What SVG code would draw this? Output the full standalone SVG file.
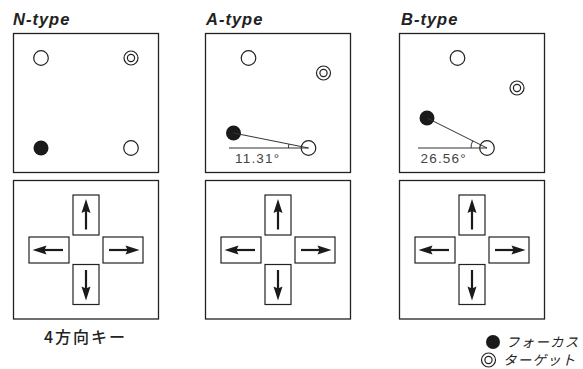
<svg xmlns="http://www.w3.org/2000/svg" xmlns:xlink="http://www.w3.org/1999/xlink" width="583" height="369" viewBox="0 0 583 369">
  <style>
    .frame { fill: #fff; stroke: #222; stroke-width: 1.3; }
    .key { fill: #fff; stroke: #222; stroke-width: 1.2; }
    .open { fill: #fff; stroke: #222; stroke-width: 1.2; }
    .focus { fill: #1a1a1a; }
    .thin { fill: none; stroke: #333; stroke-width: 1; }
    .title { font-family: "Liberation Sans", Arial, sans-serif; font-weight: bold; font-style: italic; font-size: 16.5px; letter-spacing: 1px; fill: #222; }
    .deg { font-family: "Liberation Sans", Arial, sans-serif; font-size: 13.5px; letter-spacing: 1.2px; fill: #444; }
    .jp { font-family: "Noto Sans CJK JP", sans-serif; font-size: 16px; font-weight: 500; letter-spacing: 2px; fill: #222; }
    .legend { font-family: "Noto Sans CJK JP", sans-serif; font-size: 13.5px; font-style: italic; letter-spacing: 1.2px; fill: #222; }
  </style>
  <defs>
    <!-- upward arrow glyph, centred on the origin -->
    <g id="arrow">
      <line x1="0" y1="-4" x2="0" y2="15" stroke="#1a1a1a" stroke-width="2.2"/>
      <polygon points="0,-15.5 4.5,-1.5 0,-3.5 -4.5,-1.5" fill="#1a1a1a"/>
    </g>
    <!-- target: double ring -->
    <g id="target">
      <circle r="7" class="open"/>
      <circle r="3.6" class="open"/>
    </g>
    <!-- four-way key pad, laid out relative to its frame's left edge -->
    <g id="pad">
      <rect x="59.5" y="195" width="26" height="40" class="key"/>
      <rect x="15.5" y="237" width="40" height="26" class="key"/>
      <rect x="89.5" y="237" width="40" height="26" class="key"/>
      <rect x="59.5" y="264.5" width="26" height="40" class="key"/>
      <use xlink:href="#arrow" transform="translate(72.5,214.5)"/>
      <use xlink:href="#arrow" transform="translate(72.5,285) rotate(180)"/>
      <use xlink:href="#arrow" transform="translate(34.5,250) rotate(-90)"/>
      <use xlink:href="#arrow" transform="translate(110.5,250) rotate(90)"/>
    </g>
  </defs>

  <rect width="583" height="369" fill="#fff"/>

  <!-- N-type -->
  <g id="n-type">
    <text class="title" x="13" y="25">N-type</text>
    <rect class="frame" x="13.5" y="33.5" width="145" height="139"/>
    <circle class="open" cx="41" cy="58" r="7.3"/>
    <use xlink:href="#target" x="131" y="58"/>
    <circle class="focus" cx="41" cy="148" r="7.5"/>
    <circle class="open" cx="131" cy="148" r="7.3"/>
  </g>
  <g id="n-pad">
    <rect class="frame" x="13.5" y="180.5" width="145" height="138.5"/>
    <use xlink:href="#pad" x="13.5"/>
  </g>

  <!-- A-type: grid tilted by 11.31 degrees -->
  <g id="a-type">
    <text class="title" x="206" y="25">A-type</text>
    <rect class="frame" x="205.5" y="33.5" width="145" height="139"/>
    <circle class="open" cx="248.5" cy="58" r="7.3"/>
    <use xlink:href="#target" x="323.5" y="73"/>
    <circle class="open" cx="308.5" cy="148" r="7.3"/>
    <circle class="focus" cx="233.5" cy="133" r="7.5"/>
    <text class="deg" x="235" y="163">11.31°</text>
  </g>
  <g id="a-pad">
    <rect class="frame" x="205.5" y="180.5" width="145" height="138.5"/>
    <use xlink:href="#pad" x="205.5"/>
  </g>

  <!-- B-type: grid tilted by 26.56 degrees -->
  <g id="b-type">
    <text class="title" x="401" y="25">B-type</text>
    <rect class="frame" x="399.5" y="33.5" width="145" height="139"/>
    <circle class="open" cx="457.5" cy="58" r="7.3"/>
    <use xlink:href="#target" x="517" y="88"/>
    <circle class="open" cx="487" cy="148" r="7.3"/>
    <circle class="focus" cx="427" cy="118" r="7.5"/>
    <text class="deg" x="420.5" y="163">26.56°</text>
  </g>
  <g id="b-pad">
    <rect class="frame" x="399.5" y="180.5" width="145" height="138.5"/>
    <use xlink:href="#pad" x="399.5"/>
  </g>

  <!-- focus-to-candidate lines with reference baselines and angle arcs -->
  <g id="connectors">
    <line class="thin" x1="233.5" y1="133" x2="308.5" y2="148"/>
    <line class="thin" x1="229" y1="148" x2="308.5" y2="148"/>
    <path class="thin" d="M288.5,148 A20,20 0 0 1 288.9,144.1"/>
    <line class="thin" x1="427" y1="118" x2="487" y2="148"/>
    <line class="thin" x1="418" y1="148" x2="487" y2="148"/>
    <path class="thin" d="M471,148 A16,16 0 0 1 472.7,140.8"/>
  </g>

  <g id="caption">
    <text class="jp" x="44" y="343">4方向キー</text>
  </g>

  <g id="legend">
    <circle class="focus" cx="493" cy="342" r="7"/>
    <text class="legend" x="506" y="346.5">フォーカス</text>
    <use xlink:href="#target" x="488.5" y="360"/>
    <text class="legend" x="503" y="365">ターゲット</text>
  </g>
</svg>
